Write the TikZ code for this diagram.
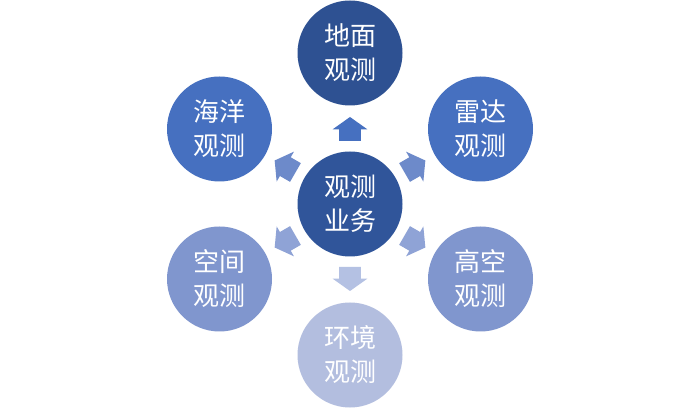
\documentclass[tikz,border=0pt]{standalone}
\usepackage{fontspec}
\newfontfamily\cjk{Noto Sans CJK SC}
\definecolor{cTop}{HTML}{2E5192}
\definecolor{cCen}{HTML}{30559A}
\definecolor{cUp}{HTML}{4670C0}
\definecolor{cLow}{HTML}{8096CE}
\definecolor{cBot}{HTML}{B3BEDF}
\definecolor{aUp}{HTML}{4670C0}
\definecolor{aUpD}{HTML}{6D8ACA}
\definecolor{aLowD}{HTML}{8FA3D6}
\definecolor{aBot}{HTML}{B4C1E3}
\begin{document}
\begin{tikzpicture}[x=1pt,y=1pt,
  bub/.style={circle,minimum size=105pt,inner sep=0pt,text=white,
    font=\cjk\fontsize{26pt}{34pt}\selectfont,align=center},
  barrow/.style={line join=miter}]
\useasboundingbox (0,0) rectangle (700,409);
\fill[white] (0,0) rectangle (700,409);
\node[bub,fill=cCen] (c) at (350,205) {观测\\业务};
\node[bub,fill=cTop] (t) at (350,356) {地面\\观测};
\node[bub,fill=cUp] (ul) at (219.5,280) {海洋\\观测};
\node[bub,fill=cUp] (ur) at (480.5,280) {雷达\\观测};
\node[bub,fill=cLow] (ll) at (219.5,130) {空间\\观测};
\node[bub,fill=cLow] (lr) at (480.5,130) {高空\\观测};
\node[bub,fill=cBot] (b) at (350,54) {环境\\观测};
\foreach \ang/\col in {90/aUp,150/aUpD,30/aUpD,210/aLowD,330/aLowD,270/aBot}{
  \begin{scope}[shift={(c.center)},rotate=\ang,shift={(75,0)}]
    \fill[\col] (-12,-10.8) -- (-0.3,-10.8) -- (-0.3,-17.3) -- (12,0)
      -- (-0.3,17.3) -- (-0.3,10.8) -- (-12,10.8) -- cycle;
  \end{scope}
}
\end{tikzpicture}
\end{document}
